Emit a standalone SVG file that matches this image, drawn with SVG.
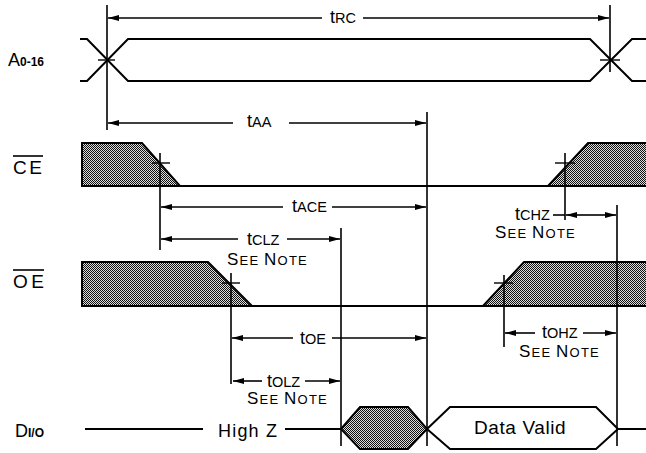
<svg xmlns="http://www.w3.org/2000/svg" width="646" height="453" viewBox="0 0 646 453">
<style>
text{font-family:"Liberation Sans",Arial,Helvetica,sans-serif;fill:#000}
.sig{fill:none;stroke:#000;stroke-width:2}
.hat{fill:url(#hatch);stroke:#000;stroke-width:2;stroke-linejoin:miter}
.vl{stroke:#000;stroke-width:1.6;fill:none}
.tk{stroke:#000;stroke-width:1.4;fill:none}
.dim{stroke:#000;stroke-width:1.6;fill:none;marker-end:url(#ah)}
.big{font-size:18px}
.sub{font-size:14.5px}
.note{letter-spacing:1.2px}
.sn{font-size:17px}
.ss{font-size:13px}
</style>
<defs>
<pattern id="hatch" width="2" height="2" patternUnits="userSpaceOnUse">
<rect width="2" height="2" fill="#ddd"/>
<rect width="1" height="1" fill="#111"/>
<rect x="1" y="1" width="1" height="1" fill="#111"/>
</pattern>
<marker id="ah" viewBox="0 0 11 6" refX="11" refY="3" markerWidth="11" markerHeight="6" markerUnits="userSpaceOnUse" orient="auto-start-reverse">
<path d="M0,0 L11,3 L0,6 z" fill="#000"/>
</marker>
</defs>

<g id="A">
<text x="8" y="66" font-size="18">A<tspan font-size="12" font-weight="bold">0-16</tspan></text>
<polyline class="sig" points="80,39 87,39 128,81 590,81 632,39 646,39"/>
<polyline class="sig" points="80,81 87,81 128,39 590,39 632,81 646,81"/>
<line class="tk" x1="98" y1="60" x2="115" y2="60"/>
<line class="tk" x1="600" y1="60" x2="620" y2="60"/>
</g>

<g id="CE">
<text x="13" y="174" font-size="19" textLength="29">CE</text>
<line x1="13" y1="156" x2="43" y2="156" stroke="#000" stroke-width="1.6"/>
<polygon class="hat" points="82,143 142,143 180,186 82,186"/>
<line class="sig" x1="180" y1="186" x2="548" y2="186"/>
<polygon class="hat" points="548,186 588,143 648,143 648,186"/>
<line class="tk" x1="152" y1="163" x2="170" y2="163"/>
<line class="tk" x1="555" y1="163" x2="575" y2="163"/>
</g>

<g id="OE">
<text x="13" y="288" font-size="19" textLength="31">OE</text>
<line x1="13" y1="270" x2="44" y2="270" stroke="#000" stroke-width="1.6"/>
<polygon class="hat" points="82,262 208,262 252,306 82,306"/>
<line class="sig" x1="252" y1="306" x2="483" y2="306"/>
<polygon class="hat" points="483,306 524,262 648,262 648,306"/>
<line class="tk" x1="222" y1="283" x2="240" y2="283"/>
<line class="tk" x1="494" y1="283" x2="513" y2="283"/>
</g>

<g id="DIO">
<text x="15" y="437" font-size="18">D<tspan font-size="12" font-weight="bold">I/O</tspan></text>
<line class="sig" x1="85" y1="429" x2="203" y2="429" stroke-width="1.6"/>
<text x="218" y="437" font-size="18" letter-spacing="1.2">High Z</text>
<line class="sig" x1="285" y1="429" x2="341" y2="429" stroke-width="1.6"/>
<polygon class="hat" points="341,429 360,407 408,407 427,429 408,449 360,449"/>
<polygon class="sig" points="427,429 450,407 596,407 618,429 596,449 450,449" fill="#fff"/>
<text x="474" y="434" font-size="19" letter-spacing="0.6">Data Valid</text>
<line class="sig" x1="618" y1="429" x2="646" y2="429" stroke-width="1.6"/>
</g>

<g id="verticals">
<line class="vl" x1="107" y1="5" x2="107" y2="130"/>
<line class="vl" x1="610" y1="5" x2="610" y2="72"/>
<line class="vl" x1="427" y1="112" x2="427" y2="446"/>
<line class="vl" x1="160" y1="153" x2="160" y2="250"/>
<line class="vl" x1="341" y1="228" x2="341" y2="446"/>
<line class="vl" x1="231" y1="273" x2="231" y2="384"/>
<line class="vl" x1="565" y1="153" x2="565" y2="220"/>
<line class="vl" x1="617" y1="205" x2="617" y2="446"/>
<line class="vl" x1="504" y1="275" x2="504" y2="347"/>
</g>

<g id="connectors">
<line class="dim" x1="322" y1="18" x2="108" y2="18"/>
<line class="dim" x1="363" y1="18" x2="609" y2="18"/>
<line class="dim" x1="233" y1="123" x2="108" y2="123"/>
<line class="dim" x1="289" y1="123" x2="426" y2="123"/>
<line class="dim" x1="283" y1="207" x2="161" y2="207"/>
<line class="dim" x1="332" y1="207" x2="426" y2="207"/>
<line class="dim" x1="238" y1="239" x2="161" y2="239"/>
<line class="dim" x1="287" y1="239" x2="340" y2="239"/>
<line class="dim" x1="293" y1="338" x2="232" y2="338"/>
<line class="dim" x1="332" y1="338" x2="426" y2="338"/>
<line class="dim" x1="262" y1="381" x2="233" y2="381"/>
<line class="dim" x1="305" y1="381" x2="340" y2="381"/>
<line class="dim" x1="535" y1="333" x2="505" y2="333"/>
<line class="dim" x1="583" y1="333" x2="616" y2="333"/>
<line x1="553" y1="215" x2="565" y2="215" stroke="#000" stroke-width="1.6"/>
<line class="dim" x1="590" y1="215" x2="566" y2="215"/>
<line class="dim" x1="590" y1="215" x2="616" y2="215"/>
</g>

<g id="labels">
<text x="330" y="23"><tspan class="big">t</tspan><tspan class="sub">RC</tspan></text>
<text x="247" y="127"><tspan class="big">t</tspan><tspan class="sub">AA</tspan></text>
<text x="292" y="212"><tspan class="big">t</tspan><tspan class="sub">ACE</tspan></text>
<text x="247" y="245"><tspan class="big">t</tspan><tspan class="sub">CLZ</tspan></text>
<text class="note" x="227" y="265"><tspan class="sn">S</tspan><tspan class="ss">EE </tspan><tspan class="sn">N</tspan><tspan class="ss">OTE</tspan></text>
<text x="515" y="220"><tspan class="big">t</tspan><tspan class="sub">CHZ</tspan></text>
<text class="note" x="495" y="238"><tspan class="sn">S</tspan><tspan class="ss">EE </tspan><tspan class="sn">N</tspan><tspan class="ss">OTE</tspan></text>
<text x="542" y="338"><tspan class="big">t</tspan><tspan class="sub">OHZ</tspan></text>
<text class="note" x="519" y="357"><tspan class="sn">S</tspan><tspan class="ss">EE </tspan><tspan class="sn">N</tspan><tspan class="ss">OTE</tspan></text>
<text x="300" y="344"><tspan class="big">t</tspan><tspan class="sub">OE</tspan></text>
<text x="267" y="387"><tspan class="big">t</tspan><tspan class="sub">OLZ</tspan></text>
<text class="note" x="247" y="404"><tspan class="sn">S</tspan><tspan class="ss">EE </tspan><tspan class="sn">N</tspan><tspan class="ss">OTE</tspan></text>
</g>
</svg>
